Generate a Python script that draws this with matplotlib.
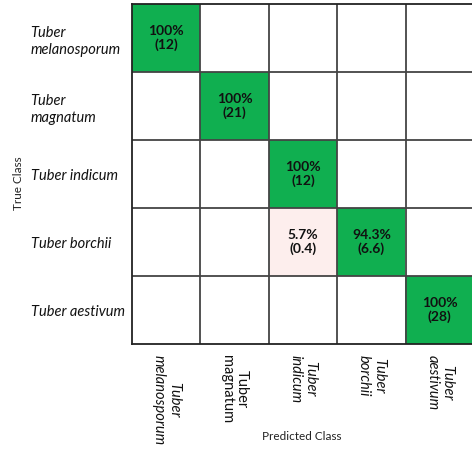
import matplotlib.pyplot as plt
import numpy as np

# class names (rows = true class, cols = predicted class)
classes = ["Tuber\nmelanosporum", "Tuber\nmagnatum", "Tuber indicum",
           "Tuber borchii", "Tuber aestivum"]
x_labels = ["Tuber\nmelanosporum", "Tuber\nmagnatum", "Tuber\nindicum",
            "Tuber\nborchii", "Tuber\naestivum"]

# percentage of each true class predicted as each class
percent = np.array([
    [100, 0, 0, 0, 0],
    [0, 100, 0, 0, 0],
    [0, 0, 100, 0, 0],
    [0, 0, 5.7, 94.3, 0],
    [0, 0, 0, 0, 100],
])
# counts shown in brackets
counts = np.array([
    [12, 0, 0, 0, 0],
    [0, 21, 0, 0, 0],
    [0, 0, 12, 0, 0],
    [0, 0, 0.4, 6.6, 0],
    [0, 0, 0, 0, 28],
])

plt.rcParams['font.family'] = ['Lato', 'DejaVu Sans']

fig = plt.figure(figsize=(4.72, 4.49), dpi=100)
ax = fig.add_axes([132/472, 105/449, 342/472, 340/449])

# cell colours: white for 0, pale pink for off-diagonal errors, green for correct
n = len(classes)
rgb = np.ones((n, n, 3))
green = np.array([16, 175, 80]) / 255
pink = np.array([253, 238, 237]) / 255
for i in range(n):
    for j in range(n):
        if percent[i, j] >= 50:
            rgb[i, j] = green
        elif percent[i, j] > 0:
            rgb[i, j] = pink

ax.imshow(rgb, aspect='auto', extent=(-0.5, n - 0.5, n - 0.5, -0.5))

# grid lines between cells
for k in range(1, n):
    ax.axhline(k - 0.5, color='#444444', lw=1.3)
    ax.axvline(k - 0.5, color='#444444', lw=1.3)
for s in ax.spines.values():
    s.set_linewidth(1.3)
    s.set_color('#222222')

# cell texts
for i in range(n):
    for j in range(n):
        if percent[i, j] > 0:
            p = percent[i, j]
            ptxt = f"{p:g}%"
            ctxt = f"({counts[i, j]:g})"
            ax.text(j, i, ptxt + "\n" + ctxt, ha='center', va='center',
                    fontsize=10, fontweight='bold', color='#111111',
                    linespacing=1.2)

ax.set_xlim(-0.5, n - 0.5)
ax.set_ylim(n - 0.5, -0.5)
ax.set_yticks(range(n))
ax.set_yticklabels(classes, fontsize=10.5, style='italic', ha='left',
                   linespacing=1.3, color='#111111')
ax.tick_params(axis='y', length=0, pad=73)
ax.set_xticks(range(n))
ax.set_xticklabels(x_labels, fontsize=10.5, style='italic', rotation=270,
                   va='top', ha='center', linespacing=1.1, color='#111111')
ax.get_xticklabels()[1].set_style('normal')
ax.tick_params(axis='x', length=0, pad=8)

fig.text(302/472, 1 - 437/449, "Predicted Class", ha='center', va='center',
         fontsize=8.5, color='#222222')
fig.text(18/472, 1 - 183/449, "True Class", ha='center', va='center',
         rotation=90, fontsize=8.5, color='#222222')

fig.savefig("out.png", dpi=100)
